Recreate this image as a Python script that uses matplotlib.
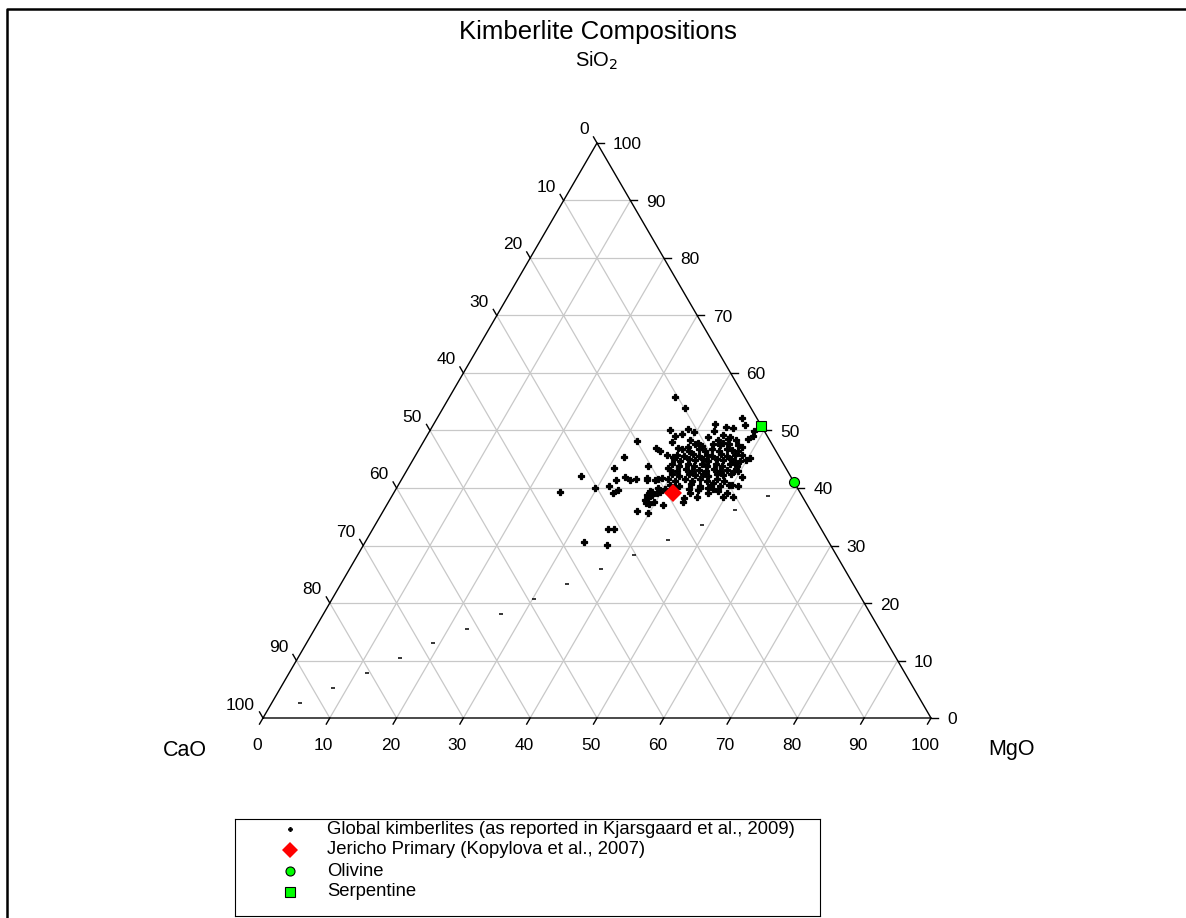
import numpy as np
import matplotlib
matplotlib.use("Agg")
import matplotlib.pyplot as plt
from matplotlib.lines import Line2D

plt.rcParams['font.family'] = ['Liberation Sans', 'DejaVu Sans']

# ---- data (wt%) ----
kimb_sio2 = [55.8, 53.9, 52.2, 51.1, 50.6, 50.4, 51.0, 50.1, 50.3, 49.7,
             49.9, 49.2, 49.9, 49.0, 49.4, 49.0, 48.9, 48.3, 48.5, 48.5,
             48.2, 48.0, 47.8, 47.8, 47.5, 47.1, 47.0, 46.4, 47.0, 47.1,
             46.6, 45.7, 45.4, 45.4, 45.2, 43.8, 43.5, 43.5, 43.0, 42.1,
             41.9, 41.4, 41.6, 41.4, 41.4, 41.6, 41.9, 40.3, 39.7, 39.1,
             40.0, 39.3, 39.5, 38.8, 38.3, 37.4, 37.2, 37.6, 39.1, 40.0,
             37.0, 36.0, 35.7, 32.9, 32.9, 30.6, 30.1, 40.3, 38.4, 39.1,
             38.4, 37.6, 38.4, 39.1, 44.5, 40.5, 45.7, 48.3, 48.9, 48.3,
             41.7, 41.4, 41.7, 39.3, 38.8, 37.9, 39.3, 40.2, 38.3, 39.1,
             40.0, 40.0, 40.9,
             47.6, 47.3, 47.7, 47.4, 47.6,
             46.7, 46.4, 46.8, 46.5, 46.7, 46.4, 46.8, 46.5,
             45.8, 45.5, 45.9, 45.6, 45.8, 45.5, 45.9, 45.6, 45.8,
             45.0, 44.7, 45.1, 44.8, 45.0, 44.7, 45.1, 44.8, 45.0, 44.7, 44.9,
             44.1, 43.8, 44.2, 43.9, 44.1, 43.8, 44.2, 43.9, 44.1, 43.8,
             43.2, 42.9, 43.3, 43.0, 43.2, 42.9, 43.3, 43.0, 43.2, 42.9,
             42.4, 42.1, 42.5, 42.2, 42.4, 42.1, 42.5, 42.2, 42.4,
             41.5, 41.2, 41.6, 41.3, 41.5, 41.2, 41.6, 41.3,
             40.6, 40.3, 40.7, 40.4, 40.6, 40.3, 40.6,
             39.8, 39.5, 39.9, 39.6, 39.8, 39.5]
kimb_mgo = [33.8, 36.2, 45.6, 42.1, 44.0, 45.2, 46.7, 35.9, 38.5, 39.6,
            42.6, 44.3, 48.5, 48.9, 38.0, 37.2, 42.1, 43.9, 45.4, 48.3,
            31.9, 37.2, 41.2, 45.0, 47.3, 48.2, 35.3, 36.2, 38.6, 40.1,
            46.9, 37.7, 38.7, 31.3, 50.3, 35.7, 30.8, 38.9, 49.6, 26.5,
            33.3, 34.2, 35.0, 32.1, 36.8, 38.3, 50.8, 31.7, 33.3, 32.9,
            29.7, 24.8, 38.2, 38.8, 38.5, 38.6, 39.2, 39.7, 39.4, 39.1,
            41.4, 38.0, 39.8, 35.2, 36.1, 32.8, 36.5, 51.0, 51.2, 49.9,
            49.7, 44.1, 45.8, 47.0, 48.4, 50.0, 48.9, 39.8, 45.5, 46.6,
            36.6, 38.0, 38.9, 38.6, 38.1, 38.2, 39.8, 41.6, 43.8, 44.4,
            45.4, 46.6, 46.9,
            40.9, 42.1, 43.5, 44.7, 45.9,
            39.4, 40.6, 41.8, 42.9, 43.9, 45.0, 46.0, 47.8,
            39.1, 40.3, 41.4, 42.4, 43.5, 44.5, 45.6, 46.6, 47.7,
            39.1, 40.1, 41.2, 42.2, 43.3, 44.3, 45.4, 46.4, 47.5, 49.0, 49.9,
            39.2, 40.4, 41.5, 42.5, 43.6, 44.6, 45.7, 46.7, 47.8, 49.0,
            39.4, 40.6, 41.6, 42.7, 43.7, 44.8, 45.8, 46.9, 47.9, 49.0,
            40.1, 41.3, 42.5, 43.5, 44.6, 45.6, 46.7, 47.7, 48.8,
            39.9, 41.1, 42.3, 43.5, 44.7, 45.9, 47.1, 48.3,
            40.7, 42.2, 43.7, 45.2, 46.7, 48.2, 49.4,
            40.3, 42.0, 43.8, 45.3, 47.4, 48.3]
# faint small points (not in legend)
minor_sio2 = [2.6, 5.2, 7.8, 10.4, 13.0, 15.5, 18.1, 20.7, 23.3, 25.9,
              28.3, 31.0, 33.6, 36.2, 38.6]
minor_mgo = [4.2, 7.9, 11.7, 15.3, 19.0, 22.8, 26.6, 30.2, 33.9, 37.7,
             41.4, 45.1, 48.9, 52.6, 56.3]
jericho_sio2, jericho_mgo = 39.1, 41.9
olivine_sio2, olivine_mgo = 41.0, 59.0
serp_sio2, serp_mgo = 50.8, 49.2
tick_vals = list(range(0, 101, 10))

W, HP = 1186, 918
fig = plt.figure(figsize=(W / 100, HP / 100), dpi=100)
x0, x1, yb, yt = 263, 931, 718, 143
ax = fig.add_axes([x0 / W, (HP - yb) / HP, (x1 - x0) / W, (yb - yt) / HP])
H = (yb - yt) / (x1 - x0)
ax.set_xlim(0, 1)
ax.set_ylim(0, H)
ax.axis('off')


def tern(s, m):
    s = np.asarray(s, dtype=float) / 100
    m = np.asarray(m, dtype=float) / 100
    return m + 0.5 * s, s * H


# grid
gc = '#c8c8c8'
for k in range(1, 10):
    f = k / 10
    ax.plot([0.5 * f, 1 - 0.5 * f], [f * H, f * H], color=gc, lw=0.9, zorder=1)
    ax.plot([f, f + 0.5 * (1 - f)], [0, (1 - f) * H], color=gc, lw=0.9, zorder=1)
    ax.plot([1 - f, 0.5 * (1 - f)], [0, (1 - f) * H], color=gc, lw=0.9, zorder=1)

# frame of triangle
ax.plot([0, 1, 0.5, 0], [0, 0, H, 0], color='black', lw=1.0, zorder=2,
        clip_on=False)

L = 0.0105
fs_tick = 12.5
for v in tick_vals:
    f = v / 100
    # bottom axis (MgO)
    bx, by = f, 0
    ax.plot([bx, bx - 0.5 * L], [by, by - 0.866 * L], color='black', lw=1.0,
            clip_on=False)
    ax.annotate(str(v), (bx, by), xytext=(-6, -27), textcoords='offset pixels',
                ha='center', va='center', fontsize=fs_tick)
    # left axis (CaO), 0 at top
    s = 1 - f
    lx, ly = 0.5 * s, s * H
    ax.plot([lx, lx - 0.5 * L], [ly, ly + 0.866 * L], color='black', lw=1.0,
            clip_on=False)
    ax.annotate(str(v), (lx, ly), xytext=(-8, 13), textcoords='offset pixels',
                ha='right', va='center', fontsize=fs_tick)
    # right axis (SiO2), 100 at top
    s = f
    rx, ry = 1 - 0.5 * s, s * H
    ax.plot([rx, rx + L], [ry, ry], color='black', lw=1.0, clip_on=False)
    ax.annotate(str(v), (rx, ry), xytext=(16, -2), textcoords='offset pixels',
                ha='left', va='center', fontsize=fs_tick)

# data
kx, ky = tern(kimb_sio2, kimb_mgo)
ax.plot(kx, ky, ls='none', marker='P', ms=4.6, mew=0.9, color='black',
        zorder=3, clip_on=False)
mx, my = tern(minor_sio2, minor_mgo)
ax.plot(mx, my, ls='none', marker='_', ms=2.4, mew=1.1, color='black',
        zorder=3, clip_on=False)
jx, jy = tern(jericho_sio2, jericho_mgo)
ax.plot(jx, jy, ls='none', marker='D', ms=9, mew=0, color='#ff0000',
        zorder=4, clip_on=False)
ox, oy = tern(olivine_sio2, olivine_mgo)
ax.plot(ox, oy, ls='none', marker='o', ms=7.2, mew=0.8, mfc='#00ff00',
        mec='black', zorder=4, clip_on=False)
sx, sy = tern(serp_sio2, serp_mgo)
ax.plot(sx, sy, ls='none', marker='s', ms=7.2, mew=0.8, mfc='#00ff00',
        mec='black', zorder=4, clip_on=False)

# titles / axis names
fig.text(598 / W, 1 - 32 / HP, 'Kimberlite Compositions', ha='center',
         va='center', fontsize=18.5)
fig.text(597 / W, 1 - 61 / HP, r'SiO$_2$', ha='center', va='center',
         fontsize=14.5)
fig.text(185 / W, 1 - 750 / HP, 'CaO', ha='center', va='center', fontsize=15.5)
fig.text(1012 / W, 1 - 750 / HP, 'MgO', ha='center', va='center', fontsize=15.5)

# legend box
lg = fig.add_axes([235 / W, 2 / HP, 585 / W, 97 / HP])
lg.set_xlim(235, 820)
lg.set_ylim(916, 819)
lg.set_xticks([])
lg.set_yticks([])
for sp in lg.spines.values():
    sp.set_linewidth(0.8)
rows = [829, 850, 871, 892]
labels = ['Global kimberlites (as reported in Kjarsgaard et al., 2009)',
          'Jericho Primary (Kopylova et al., 2007)', 'Olivine', 'Serpentine']
lg.plot(290, rows[0], marker='P', ms=3.0, mew=0.6, color='black')
lg.plot(290, rows[1], marker='D', ms=8, mew=0, color='#ff0000')
lg.plot(290, rows[2], marker='o', ms=6.5, mew=0.8, mfc='#00ff00', mec='black')
lg.plot(290, rows[3], marker='s', ms=6.5, mew=0.8, mfc='#00ff00', mec='black')
for r, t in zip(rows, labels):
    lg.text(327, r, t, ha='left', va='center', fontsize=13.3)

# page border (top and left)
fig.add_artist(Line2D([7 / W, 7 / W, 1], [0, 1 - 8.5 / HP, 1 - 8.5 / HP],
                      color='black', lw=1.8))

fig.savefig('out.png', dpi=100)
